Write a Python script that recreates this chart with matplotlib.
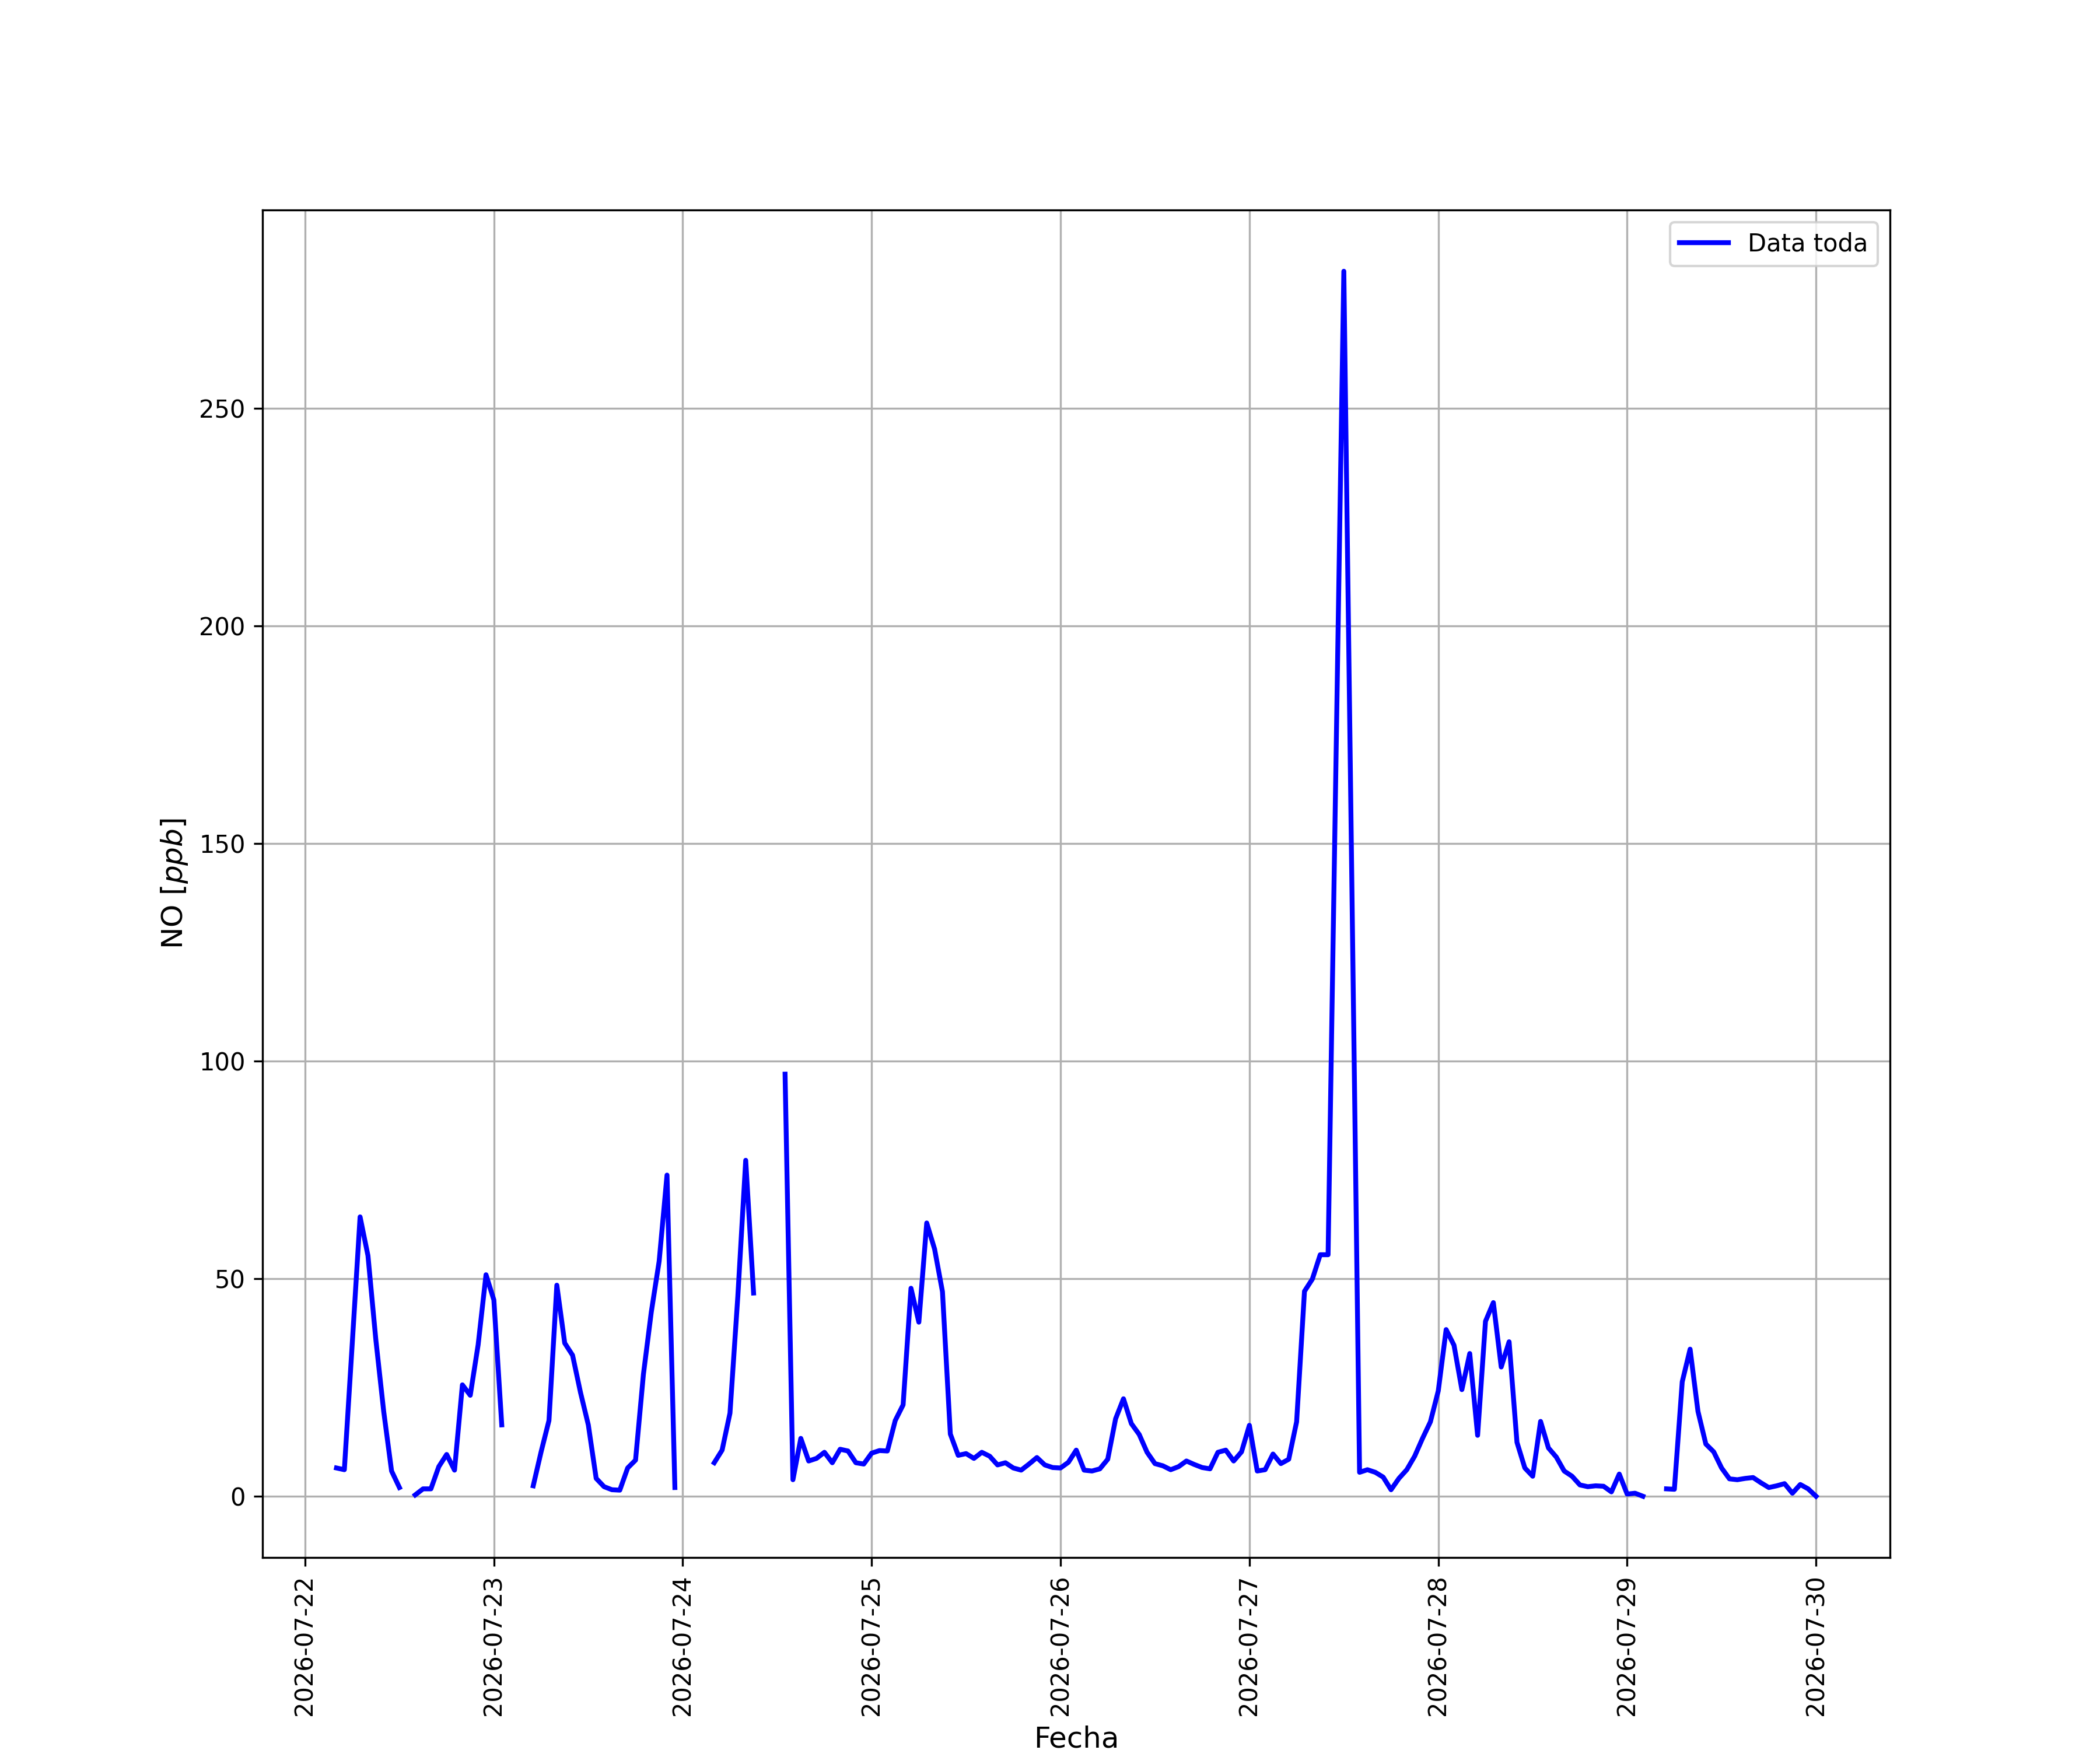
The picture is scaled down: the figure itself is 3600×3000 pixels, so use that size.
import numpy as np
import pandas as pd
from matplotlib import pyplot as plt

nan = np.nan

# hourly NO values [ppb], one list per day (hours 00..23), nan = gap in the record
dia_22 = [nan, nan, nan, nan, 6.5, 6.1, 35.0, 64.2, 55.3, 36.0, 19.5, 5.8,
          2.0, nan, 0.3, 1.7, 1.7, 6.8, 9.6, 6.0, 25.6, 23.2, 34.8, 50.9]
dia_23 = [45.1, 16.4, nan, nan, nan, 2.4, 10.2, 17.4, 48.5, 35.2, 32.4, 23.9,
          16.4, 4.1, 2.2, 1.5, 1.4, 6.5, 8.3, 28.0, 42.3, 54.0, 73.8, 2.0]
dia_24 = [nan, nan, nan, nan, 7.7, 10.6, 19.1, 46.0, 77.2, 46.7, nan, nan,
          nan, 97.0, 3.8, 13.3, 8.1, 8.7, 10.1, 7.7, 10.8, 10.4, 7.7, 7.4]
dia_25 = [9.9, 10.5, 10.4, 17.4, 21.0, 47.8, 40.0, 62.8, 56.8, 47.0, 14.3, 9.4,
          9.8, 8.7, 10.1, 9.2, 7.2, 7.7, 6.5, 6.0, 7.4, 8.9, 7.2, 6.6]
dia_26 = [6.5, 7.8, 10.6, 6.0, 5.8, 6.3, 8.5, 17.8, 22.4, 16.7, 14.2, 10.1,
          7.5, 7.0, 6.1, 6.8, 8.1, 7.3, 6.6, 6.3, 10.1, 10.6, 8.1, 10.2]
dia_27 = [16.3, 5.8, 6.1, 9.7, 7.5, 8.5, 17.1, 47.1, 49.9, 55.5, 55.5, 0.0,
          281.5, 0.0, 5.5, 6.1, 5.5, 4.4, 1.5, 4.1, 6.1, 9.2, 13.3, 17.1]
dia_28 = [24.2, 38.3, 34.7, 24.5, 32.8, 14.0, 40.2, 44.5, 29.7, 35.5, 12.4, 6.5,
          4.6, 17.2, 11.1, 9.0, 5.8, 4.6, 2.6, 2.2, 2.4, 2.3, 1.0, 5.1]
dia_29 = [0.5, 0.7, 0.0, nan, nan, 1.7, 1.6, 26.3, 33.8, 19.5, 12.0, 10.2,
          6.5, 4.0, 3.8, 4.1, 4.3, 3.1, 2.0, 2.4, 2.9, 0.7, 2.7, 1.7]
dia_30 = [0.0]

# rows that do not exist in the file (line is joined across them, not broken)
sin_registro = ['2026-07-27 11:00', '2026-07-27 13:00']

valores = dia_22 + dia_23 + dia_24 + dia_25 + dia_26 + dia_27 + dia_28 + dia_29 + dia_30
fechas = pd.date_range('2026-07-22 00:00', periods=len(valores), freq='h')
serie = pd.Series(valores, index=fechas)
serie = serie.drop(pd.to_datetime(sin_registro))
serie = serie.loc['2026-07-22 04:00':]

fig, ax = plt.subplots(1, 1, figsize=(12, 10))
ax.plot(serie.index, serie.values, color='b', linewidth=2, label='Data toda')
ax.set_xlabel('Fecha', fontsize=12)
ax.set_ylabel('NO $[ppb]$', fontsize=12)
ax.grid(True)
ax.legend(loc='upper right')
plt.xticks(rotation=90)
plt.savefig('out.png', dpi=300)
